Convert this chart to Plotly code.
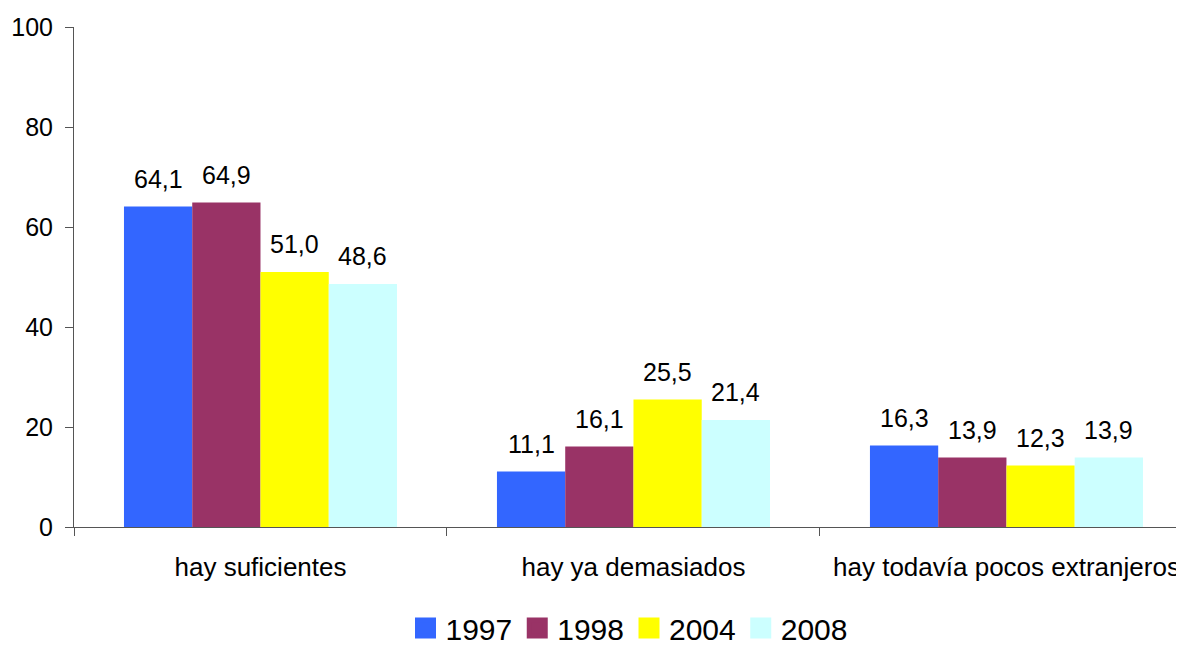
import plotly.graph_objects as go

categories = ["hay suficientes", "hay ya demasiados", "hay todavía pocos extranjeros"]
years = ["1997", "1998", "2004", "2008"]
v1997 = [64.1, 11.1, 16.3]
v1998 = [64.9, 16.1, 13.9]
v2004 = [51.0, 25.5, 12.3]
v2008 = [48.6, 21.4, 13.9]
series = [v1997, v1998, v2004, v2008]
colors = ["#3366FF", "#993366", "#FFFF00", "#CCFFFF"]
yticks = [0, 20, 40, 60, 80, 100]

FONT = "Liberation Sans, Arial, sans-serif"
BARGAP = 0.268

fig = go.Figure()
for name, vals, col in zip(years, series, colors):
    fig.add_trace(go.Bar(x=categories, y=vals, name=name, marker=dict(color=col, line=dict(width=0)),
                         showlegend=False))
# legend entries (larger squares)
for name, col in zip(years, colors):
    fig.add_trace(go.Scatter(x=[None], y=[None], mode="markers", name=name,
                             marker=dict(symbol="square", size=16, color=col,
                                         line=dict(color=col, width=5))))

n = len(series)
bw = (1 - BARGAP) / n
annotations = []
for j, vals in enumerate(series):
    for i, v in enumerate(vals):
        annotations.append(dict(
            x=i + (j - (n - 1) / 2) * bw, y=v, xref="x", yref="y",
            text=f"{v:.1f}".replace(".", ","), showarrow=False,
            yanchor="bottom", yshift=12,
            font=dict(family=FONT, size=25, color="black")))

# page body has an 8px margin, so the figure is 8px smaller than the window
fig.update_layout(
    width=1176, height=640,
    margin=dict(l=66, r=0, t=19, b=121, autoexpand=False),
    paper_bgcolor="white", plot_bgcolor="white",
    barmode="group", bargap=BARGAP, bargroupgap=0,
    font=dict(family=FONT, color="black"),
    annotations=annotations,
    showlegend=True,
    legend=dict(orientation="h", x=0.5, xanchor="center", y=-0.254, yanchor="bottom",
                font=dict(family=FONT, size=30, color="black"), itemsizing="trace",
                itemclick=False, borderwidth=0),
    xaxis=dict(type="category", range=[-0.5, 2.476], tickson="boundaries",
               ticks="outside", ticklen=8, tickcolor="#555", showline=True,
               linecolor="#555", linewidth=1, showgrid=False, zeroline=False,
               automargin=False,
               tickfont=dict(family=FONT, size=26, color="black"), ticklabelstandoff=17),
    yaxis=dict(range=[0, 100], tickvals=yticks, ticks="outside", ticklen=8,
               tickcolor="#555", showline=True, linecolor="#555", linewidth=1,
               showgrid=False, zeroline=False, automargin=False,
               tickfont=dict(family=FONT, size=25, color="black"), ticklabelstandoff=7),
)

fig.write_html("out.html")
